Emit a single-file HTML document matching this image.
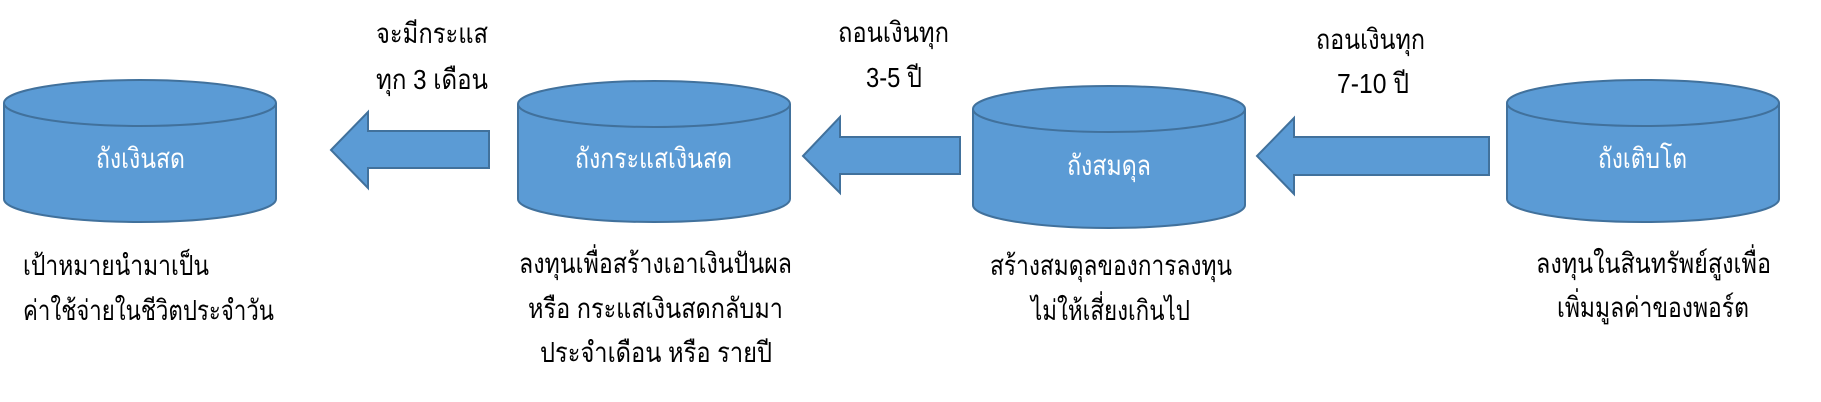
<!DOCTYPE html>
<html><head><meta charset="utf-8"><style>
html,body{margin:0;padding:0;background:#fff;width:1821px;height:402px;overflow:hidden}
text{font-family:"Liberation Sans","Noto Sans CJK SC",sans-serif;font-size:28px}
.w{fill:#fff}.b{fill:#000}
</style></head><body>
<svg width="1821" height="402" viewBox="0 0 1821 402" xmlns="http://www.w3.org/2000/svg">
<g fill="#5B9BD5" stroke="#41719C" stroke-width="2">
<path d="M4,103 L4,199 A136,23 0 0 0 276,199 L276,103 A136,23 0 0 0 4,103 Z"/>
<path d="M4,103 A136,23 0 0 0 276,103" fill="none"/>
<path d="M518,104 L518,199 A136,23 0 0 0 790,199 L790,104 A136,23 0 0 0 518,104 Z"/>
<path d="M518,104 A136,23 0 0 0 790,104" fill="none"/>
<path d="M973,109 L973,205 A136,23 0 0 0 1245,205 L1245,109 A136,23 0 0 0 973,109 Z"/>
<path d="M973,109 A136,23 0 0 0 1245,109" fill="none"/>
<path d="M1507,103 L1507,199 A136,23 0 0 0 1779,199 L1779,103 A136,23 0 0 0 1507,103 Z"/>
<path d="M1507,103 A136,23 0 0 0 1779,103" fill="none"/>
<polygon points="331,150 368,112 368,131 489,131 489,168 368,168 368,188"/>
<polygon points="803,156 840,117 840,137 960,137 960,174 840,174 840,193"/>
<polygon points="1257,156 1294,118 1294,137 1489,137 1489,175 1294,175 1294,194"/>
</g>
<text class="w" x="96" y="168" textLength="89" lengthAdjust="spacingAndGlyphs">ถังเงินสด</text>
<text class="w" x="575" y="168" textLength="157" lengthAdjust="spacingAndGlyphs">ถังกระแสเงินสด</text>
<text class="w" x="1067" y="175" textLength="84" lengthAdjust="spacingAndGlyphs">ถังสมดุล</text>
<text class="w" x="1598" y="168" textLength="89" lengthAdjust="spacingAndGlyphs">ถังเติบโต</text>

<text class="b" x="376" y="43" textLength="112" lengthAdjust="spacingAndGlyphs">จะมีกระแส</text>
<text class="b" x="376" y="89" textLength="112" lengthAdjust="spacingAndGlyphs">ทุก 3 เดือน</text>
<text class="b" x="838" y="42" textLength="111" lengthAdjust="spacingAndGlyphs">ถอนเงินทุก</text>
<text class="b" x="866" y="87" textLength="56" lengthAdjust="spacingAndGlyphs">3-5 ปี</text>
<text class="b" x="1316" y="49" textLength="109" lengthAdjust="spacingAndGlyphs">ถอนเงินทุก</text>
<text class="b" x="1337" y="93" textLength="72" lengthAdjust="spacingAndGlyphs">7-10 ปี</text>

<text class="b" x="23" y="275" textLength="186" lengthAdjust="spacingAndGlyphs">เป้าหมายนำมาเป็น</text>
<text class="b" x="23" y="320" textLength="251" lengthAdjust="spacingAndGlyphs">ค่าใช้จ่ายในชีวิตประจำวัน</text>
<text class="b" x="519" y="273" textLength="273" lengthAdjust="spacingAndGlyphs">ลงทุนเพื่อสร้างเอาเงินปันผล</text>
<text class="b" x="528" y="318" textLength="255" lengthAdjust="spacingAndGlyphs">หรือ กระแสเงินสดกลับมา</text>
<text class="b" x="540" y="362" textLength="232" lengthAdjust="spacingAndGlyphs">ประจำเดือน หรือ รายปี</text>
<text class="b" x="990" y="275" textLength="242" lengthAdjust="spacingAndGlyphs">สร้างสมดุลของการลงทุน</text>
<text class="b" x="1031" y="320" textLength="159" lengthAdjust="spacingAndGlyphs">ไม่ให้เสี่ยงเกินไป</text>
<text class="b" x="1536" y="273" textLength="235" lengthAdjust="spacingAndGlyphs">ลงทุนในสินทรัพย์สูงเพื่อ</text>
<text class="b" x="1557" y="317" textLength="192" lengthAdjust="spacingAndGlyphs">เพิ่มมูลค่าของพอร์ต</text>
</svg>
</body></html>
